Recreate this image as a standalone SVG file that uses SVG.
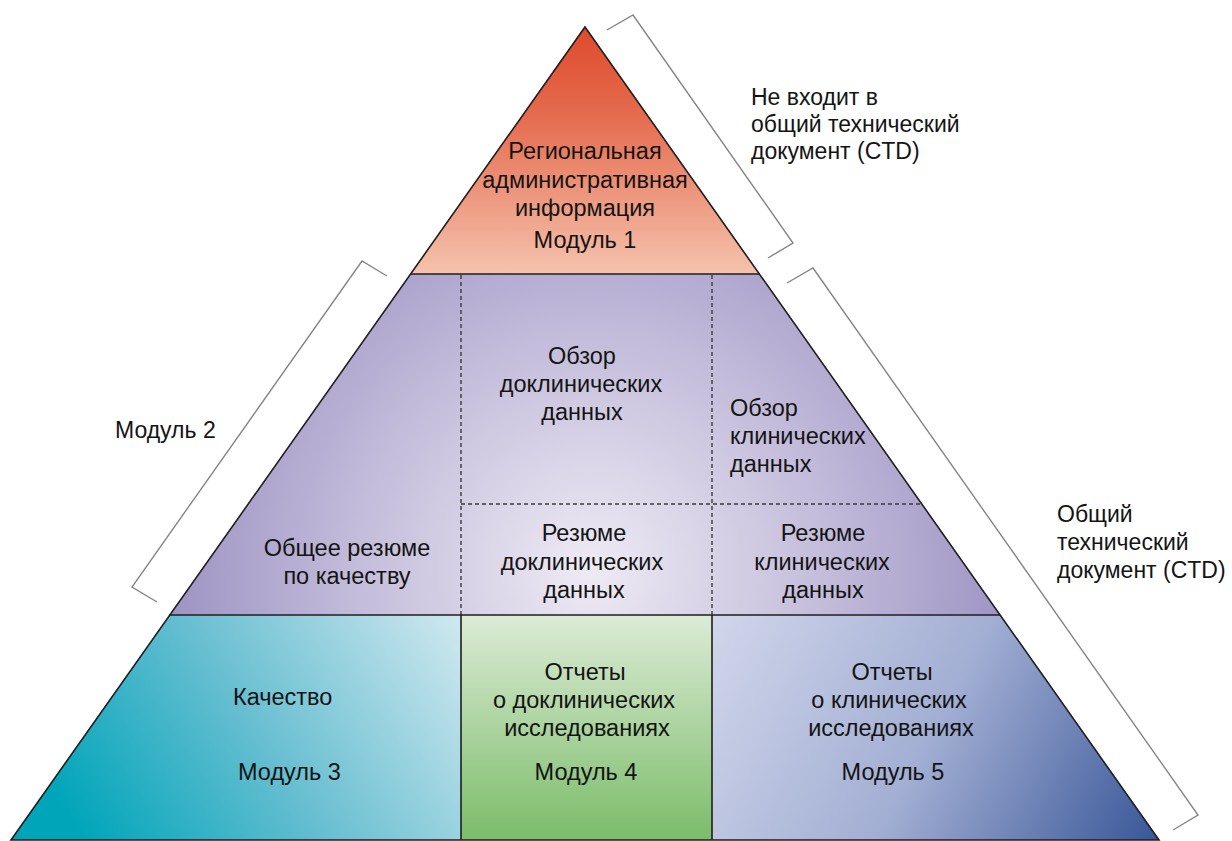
<svg xmlns="http://www.w3.org/2000/svg" width="1232" height="841" viewBox="0 0 1232 841">
<defs>
<style>
text{font-family:"Liberation Sans",Arial,sans-serif;font-size:23.5px;fill:#141414}
.c{text-anchor:middle}
.o{font-size:23px}
.edge{fill:none;stroke:#1e1e1e;stroke-width:1.6}
.dash{fill:none;stroke:#3a3a3a;stroke-width:1.4;stroke-dasharray:4 3}
.br{fill:none;stroke:#858585;stroke-width:1.4;stroke-linejoin:miter}
</style>
<linearGradient id="gTop" gradientUnits="userSpaceOnUse" x1="0" y1="27" x2="0" y2="274">
<stop offset="0" stop-color="#de4a2d"/>
<stop offset="0.35" stop-color="#e56a4d"/>
<stop offset="1" stop-color="#f5c3ad"/>
</linearGradient>
<radialGradient id="gMid" gradientUnits="userSpaceOnUse" cx="590" cy="570" r="460">
<stop offset="0" stop-color="#eeebf4"/>
<stop offset="0.5" stop-color="#c4bddb"/>
<stop offset="1" stop-color="#968bbf"/>
</radialGradient>
<linearGradient id="gM3" gradientUnits="userSpaceOnUse" x1="90" y1="850" x2="455" y2="610">
<stop offset="0" stop-color="#00a5ba"/>
<stop offset="0.45" stop-color="#64bdd0"/>
<stop offset="1" stop-color="#cfe8ef"/>
</linearGradient>
<linearGradient id="gM4" gradientUnits="userSpaceOnUse" x1="0" y1="615" x2="0" y2="840">
<stop offset="0" stop-color="#dcebd6"/>
<stop offset="1" stop-color="#7bbc69"/>
</linearGradient>
<linearGradient id="gM5" gradientUnits="userSpaceOnUse" x1="720" y1="615" x2="1150" y2="845">
<stop offset="0" stop-color="#cfd5ea"/>
<stop offset="0.5" stop-color="#a2aed3"/>
<stop offset="1" stop-color="#3a5899"/>
</linearGradient>
</defs>
<rect width="1232" height="841" fill="#ffffff"/>

<g id="module1">
<polygon points="585,27 759.4,274 410.6,274" fill="url(#gTop)"/>
<text class="c" x="585" y="159">Региональная</text>
<text class="c" x="585" y="188">административная</text>
<text class="c" x="585" y="216">информация</text>
<text class="c" x="585" y="248">Модуль 1</text>
</g>

<g id="module2">
<polygon points="410.6,274 759.4,274 1000.1,615 169.9,615" fill="url(#gMid)"/>
<line class="dash" x1="461" y1="275" x2="461" y2="615"/>
<line class="dash" x1="712" y1="275" x2="712" y2="615"/>
<line class="dash" x1="461" y1="504" x2="921.5" y2="504"/>
<g id="quality-summary">
<text class="c" x="347" y="556">Общее резюме</text>
<text class="c" x="347" y="584">по качеству</text>
</g>
<g id="nonclinical-overview">
<text class="c" x="582" y="364">Обзор</text>
<text class="c" x="581" y="392">доклинических</text>
<text class="c" x="582" y="420">данных</text>
</g>
<g id="clinical-overview">
<text x="730" y="416">Обзор</text>
<text x="730" y="444">клинических</text>
<text x="730" y="472">данных</text>
</g>
<g id="nonclinical-summary">
<text class="c" x="584" y="541">Резюме</text>
<text class="c" x="582" y="570">доклинических</text>
<text class="c" x="584" y="598">данных</text>
</g>
<g id="clinical-summary">
<text class="c" x="823" y="541">Резюме</text>
<text class="c" x="822" y="570">клинических</text>
<text class="c" x="823" y="598">данных</text>
</g>
</g>

<g id="module3">
<polygon points="169.9,615 461,615 461,840 11,840" fill="url(#gM3)"/>
<text x="233" y="705">Качество</text>
<text x="238" y="780">Модуль 3</text>
</g>

<g id="module4">
<rect x="461" y="615" width="251" height="225" fill="url(#gM4)"/>
<text class="c" x="585" y="680">Отчеты</text>
<text class="c" x="584" y="708">о доклинических</text>
<text class="c" x="587" y="736">исследованиях</text>
<text class="c" x="586" y="780">Модуль 4</text>
</g>

<g id="module5">
<polygon points="712,615 1000.1,615 1159,840 712,840" fill="url(#gM5)"/>
<text class="c" x="892" y="680">Отчеты</text>
<text class="c" x="889" y="708">о клинических</text>
<text class="c" x="891" y="736">исследованиях</text>
<text class="c" x="893" y="780">Модуль 5</text>
</g>

<g id="outlines">
<polygon class="edge" points="585,27 1159,840 11,840"/>
<line class="edge" x1="410.6" y1="274" x2="759.4" y2="274"/>
<line class="edge" x1="169.9" y1="615" x2="1000.1" y2="615"/>
<line class="edge" x1="461" y1="615" x2="461" y2="840"/>
<line class="edge" x1="712" y1="615" x2="712" y2="840"/>
</g>

<g id="connectors">
<polyline class="br" points="607,30 633,15 793,243 768,258"/>
<polyline class="br" points="787,283 813,268 1198,815 1173,830"/>
<polyline class="br" points="387,276 362,261 132,587 157,602"/>
</g>

<g id="label-not-ctd">
<text class="o" x="751" y="105">Не входит в</text>
<text class="o" x="751" y="132">общий технический</text>
<text class="o" x="751" y="159">документ (CTD)</text>
</g>
<g id="label-ctd">
<text class="o" x="1057" y="522">Общий</text>
<text class="o" x="1057" y="550">технический</text>
<text class="o" x="1057" y="578">документ (CTD)</text>
</g>
<g id="label-module2">
<text class="o" x="115" y="438">Модуль 2</text>
</g>
</svg>
